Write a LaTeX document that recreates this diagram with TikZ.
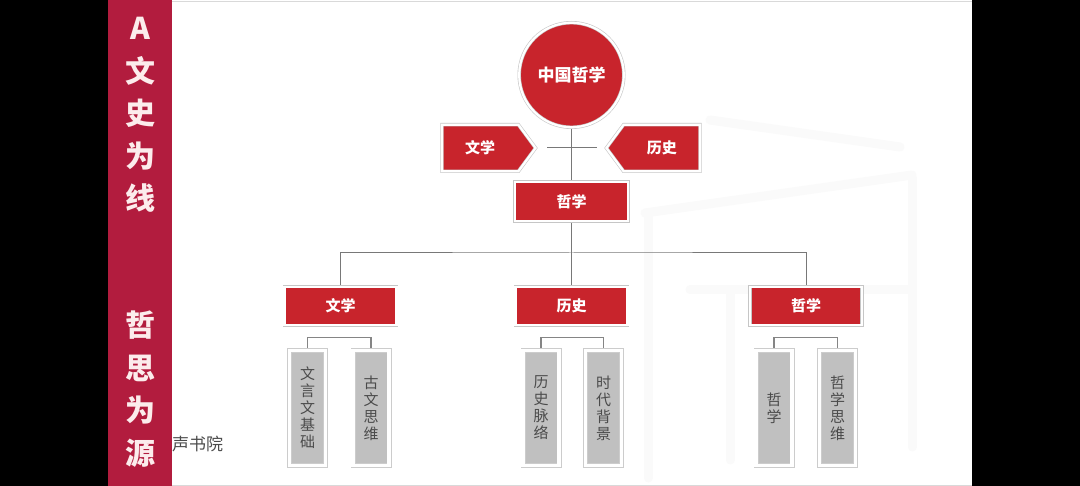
\documentclass[tikz,border=0pt]{standalone}
\usepackage{fontspec}
\newfontfamily\cjk{Noto Sans CJK SC}
\usetikzlibrary{shapes.symbols,backgrounds}
\definecolor{barred}{RGB}{178,28,62}
\definecolor{boxred}{RGB}{200,36,44}
\definecolor{bartext}{RGB}{252,236,236}
\definecolor{leafgray}{RGB}{192,192,192}
\definecolor{leaftext}{RGB}{75,75,75}
\definecolor{linegray}{RGB}{120,120,120}
\tikzset{
  redbox/.style={rectangle, fill=boxred, draw=gray!45, double=white, double distance=2.2pt,
    line width=0.6pt, text=white, font=\cjk\bfseries\fontsize{15}{15}\selectfont, inner sep=0pt,
    minimum width=112pt, minimum height=38.6pt},
  redcirc/.style={circle, fill=boxred, draw=gray!45, double=white, double distance=2.2pt,
    line width=0.6pt, text=white, font=\cjk\bfseries\fontsize{17}{17}\selectfont, inner sep=0pt,
    minimum size=104.6pt},
  redsig/.style={signal, fill=boxred, draw=gray!45, double=white, double distance=2.2pt,
    line width=0.6pt, text=white, font=\cjk\bfseries\fontsize{15}{15}\selectfont, inner sep=0pt,
    minimum width=93.6pt, minimum height=46.6pt, signal pointer angle=107},
  leaf/.style={rectangle, fill=leafgray, draw=gray!40, double=white, double distance=3.8pt,
    line width=0.6pt, text=leaftext, font=\cjk\fontsize{15}{17}\selectfont, align=center,
    inner sep=0pt, minimum width=36pt, minimum height=115pt},
  tree/.style={draw=linegray, line width=1pt},
  brk/.style={draw=linegray!90, line width=1.6pt},
  bartxt/.style={text=bartext, font=\cjk\bfseries\fontsize{30}{42.5}\selectfont, align=center, inner sep=0pt},
  faint/.style={draw=gray!4, line width=9pt, line cap=round}
}
\begin{document}
\begin{tikzpicture}[x=1pt,y=-1pt]
\useasboundingbox (0,0) rectangle (1080,486);
\begin{scope}[on background layer]
  \fill[black] (0,0) rectangle (1080,486);
  \fill[white] (108,0) rectangle (972,486);
  \draw[gray!30, line width=0.8pt] (172,1) -- (972,1);
  \draw[gray!30, line width=0.8pt] (172,485) -- (972,485);
  % faint background glyph
  \draw[faint] (710,120) -- (900,147);
  \draw[faint] (645,213) -- (912,175);
  \draw[faint] (648,215) -- (648,478);
  \draw[faint] (912,178) -- (912,447);
  \draw[faint] (690,290) -- (912,290);
  \draw[faint] (730,290) -- (730,460);
  \fill[barred] (108,0) rectangle (172,486);
\end{scope}

% left bar text
\node[bartxt] (bar1) at (140,115) {A\\文\\史\\为\\线};
\node[bartxt] (bar2) at (140,389) {哲\\思\\为\\源};

% watermark
\node[anchor=west, text=gray!60!black, font=\cjk\fontsize{17}{17}\selectfont, inner sep=0pt] (wm) at (172,444) {声书院};

% top part
\node[redcirc] (root) at (571.5,75) {中国哲学};
\node[redsig, signal to=east, anchor=west] (wx) at (441.7,148) {文学};
\node[redsig, signal to=west, anchor=east] (ls) at (700.3,148) {历史};
\node[redbox, minimum width=113.6pt, minimum height=39.6pt] (zx) at (571.5,201.5) {哲学};
\coordinate (cl) at (547,148);
\coordinate (cr) at (597,148);
\coordinate (hub) at (571.5,253);

% second level
\node[redbox] (b1) at (340.5,306) {文学};
\node[redbox] (b2) at (571.5,306) {历史};
\node[redbox] (b3) at (806,306) {哲学};

% leaves
\node[leaf] (l1) at (307.5,408) {文\\言\\文\\基\\础};
\node[leaf] (l2) at (371,408) {古\\文\\思\\维};
\node[leaf] (l3) at (541,408) {历\\史\\脉\\络};
\node[leaf] (l4) at (603.5,408) {时\\代\\背\\景};
\node[leaf] (l5) at (774,408) {哲\\学};
\node[leaf] (l6) at (837.5,408) {哲\\学\\思\\维};

\begin{scope}[on background layer]
  \draw[tree] (root.south) -- (zx.north);
  \draw[tree] (cl) -- (cr);
  \draw[tree] (zx.south) -- (hub);
  \draw[tree] (b1.north) |- (hub) -| (b3.north);
  \draw[tree] (hub) -- (b2.north);
  \draw[brk] (l1.north) -- ++(0,-12.5) -| (l2.north);
  \draw[brk] (l3.north) -- ++(0,-12.5) -| (l4.north);
  \draw[brk] (l5.north) -- ++(0,-12.5) -| (l6.north);
\end{scope}
\end{tikzpicture}
\end{document}
